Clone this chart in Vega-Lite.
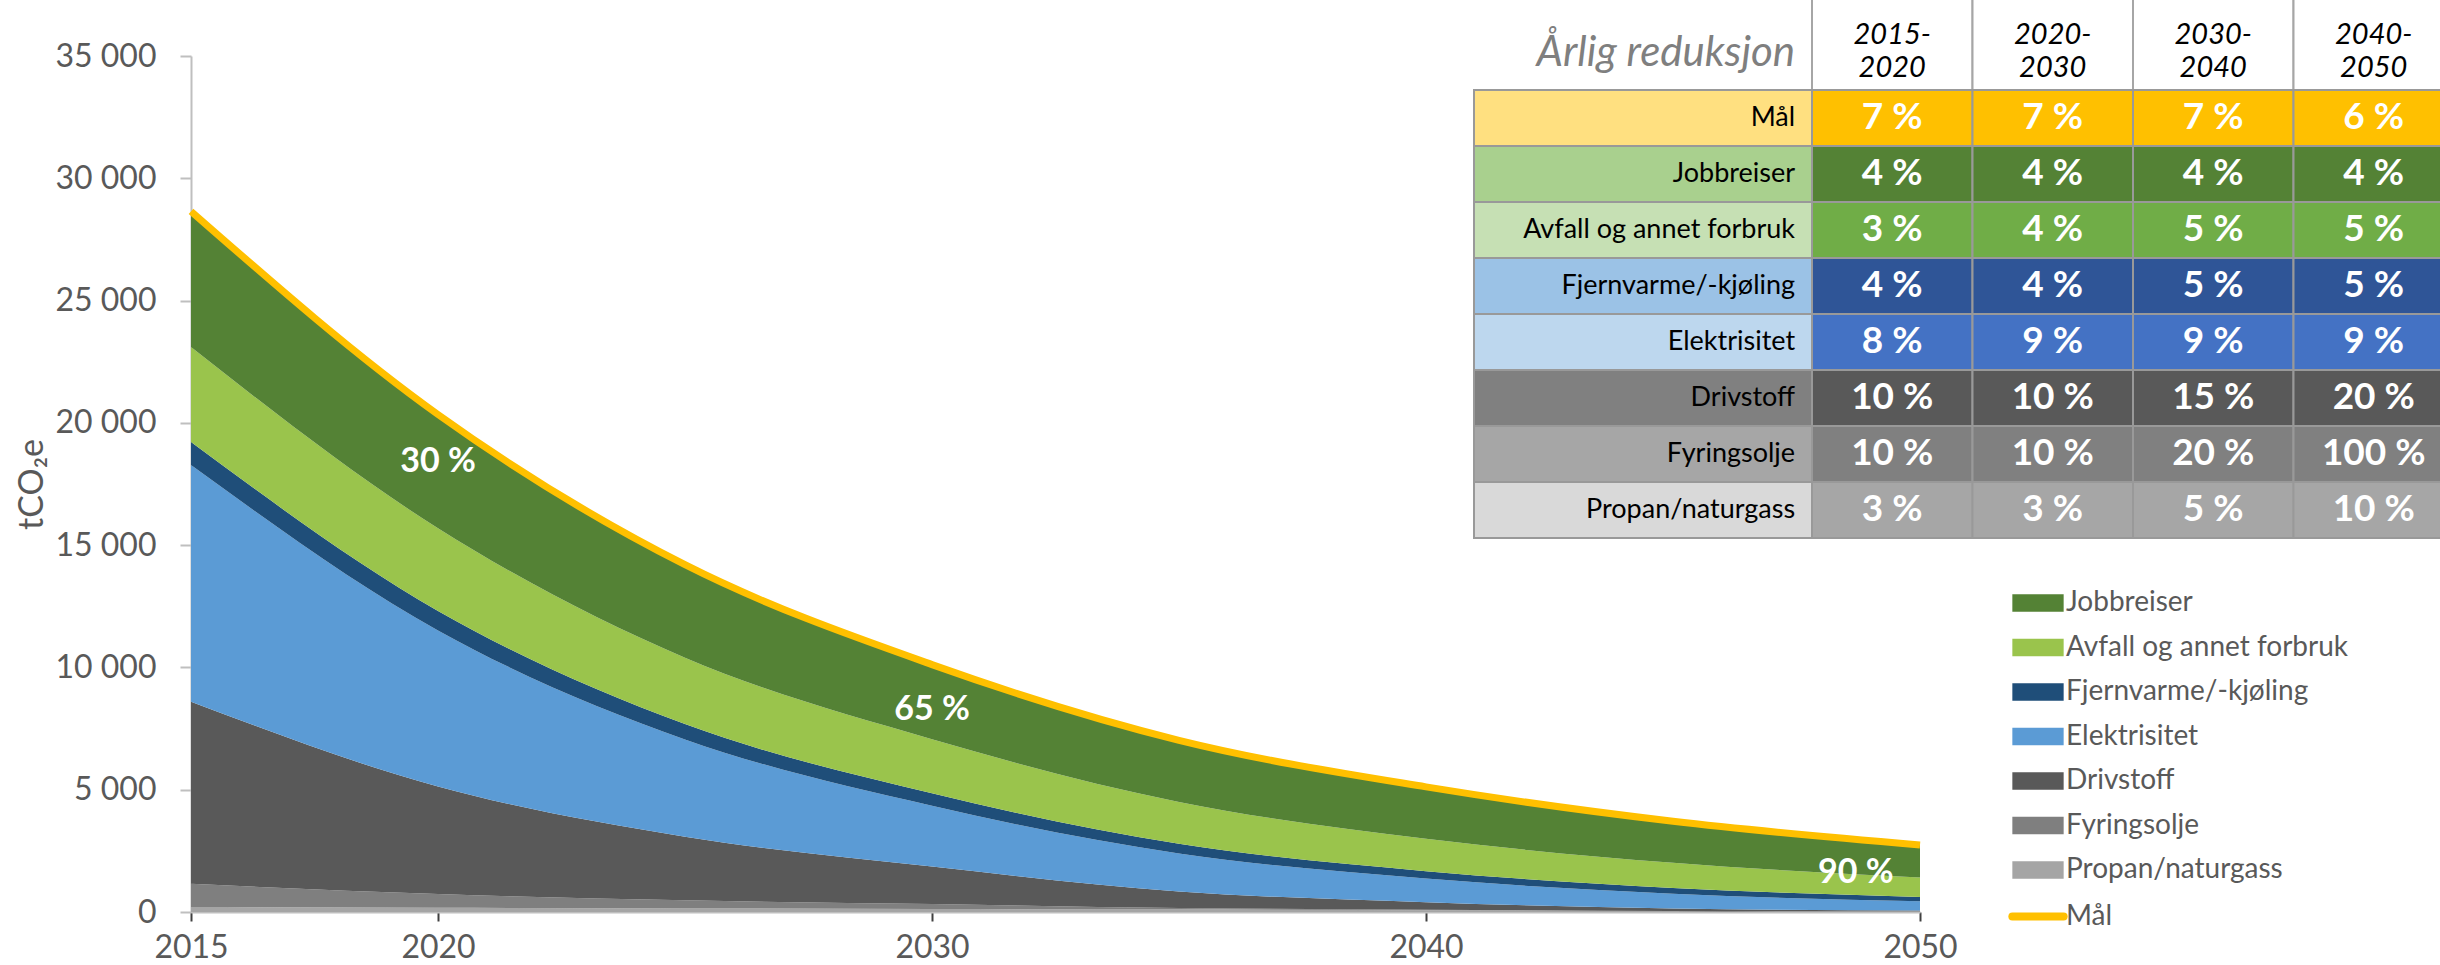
{
  "$schema": "https://vega.github.io/schema/vega-lite/v6.json",
  "width": 1729,
  "height": 856,
  "autosize": {"type": "none"},
  "padding": {"left": 191, "top": 56, "right": 520, "bottom": 53},
  "background": "white",
  "config": {"view": {"stroke": null}, "font": "Lato"},
  "datasets": {
    "utslipp": [
      {"aar": 2015, "kilde": "Propan/naturgass", "verdi": 200},
      {"aar": 2020, "kilde": "Propan/naturgass", "verdi": 172},
      {"aar": 2025, "kilde": "Propan/naturgass", "verdi": 148},
      {"aar": 2030, "kilde": "Propan/naturgass", "verdi": 127},
      {"aar": 2035, "kilde": "Propan/naturgass", "verdi": 98},
      {"aar": 2040, "kilde": "Propan/naturgass", "verdi": 76},
      {"aar": 2045, "kilde": "Propan/naturgass", "verdi": 45},
      {"aar": 2050, "kilde": "Propan/naturgass", "verdi": 26},
      {"aar": 2015, "kilde": "Fyringsolje", "verdi": 950},
      {"aar": 2020, "kilde": "Fyringsolje", "verdi": 561},
      {"aar": 2025, "kilde": "Fyringsolje", "verdi": 331},
      {"aar": 2030, "kilde": "Fyringsolje", "verdi": 196},
      {"aar": 2035, "kilde": "Fyringsolje", "verdi": 64},
      {"aar": 2040, "kilde": "Fyringsolje", "verdi": 21},
      {"aar": 2045, "kilde": "Fyringsolje", "verdi": 0},
      {"aar": 2050, "kilde": "Fyringsolje", "verdi": 0},
      {"aar": 2015, "kilde": "Drivstoff", "verdi": 7450},
      {"aar": 2020, "kilde": "Drivstoff", "verdi": 4399},
      {"aar": 2025, "kilde": "Drivstoff", "verdi": 2598},
      {"aar": 2030, "kilde": "Drivstoff", "verdi": 1534},
      {"aar": 2035, "kilde": "Drivstoff", "verdi": 681},
      {"aar": 2040, "kilde": "Drivstoff", "verdi": 302},
      {"aar": 2045, "kilde": "Drivstoff", "verdi": 99},
      {"aar": 2050, "kilde": "Drivstoff", "verdi": 32},
      {"aar": 2015, "kilde": "Elektrisitet", "verdi": 9680},
      {"aar": 2020, "kilde": "Elektrisitet", "verdi": 6380},
      {"aar": 2025, "kilde": "Elektrisitet", "verdi": 3981},
      {"aar": 2030, "kilde": "Elektrisitet", "verdi": 2484},
      {"aar": 2035, "kilde": "Elektrisitet", "verdi": 1550},
      {"aar": 2040, "kilde": "Elektrisitet", "verdi": 967},
      {"aar": 2045, "kilde": "Elektrisitet", "verdi": 604},
      {"aar": 2050, "kilde": "Elektrisitet", "verdi": 377},
      {"aar": 2015, "kilde": "Fjernvarme/-kjøling", "verdi": 940},
      {"aar": 2020, "kilde": "Fjernvarme/-kjøling", "verdi": 800},
      {"aar": 2025, "kilde": "Fjernvarme/-kjøling", "verdi": 625},
      {"aar": 2030, "kilde": "Fjernvarme/-kjøling", "verdi": 510},
      {"aar": 2035, "kilde": "Fjernvarme/-kjøling", "verdi": 394},
      {"aar": 2040, "kilde": "Fjernvarme/-kjøling", "verdi": 305},
      {"aar": 2045, "kilde": "Fjernvarme/-kjøling", "verdi": 236},
      {"aar": 2050, "kilde": "Fjernvarme/-kjøling", "verdi": 183},
      {"aar": 2015, "kilde": "Avfall og annet forbruk", "verdi": 3880},
      {"aar": 2020, "kilde": "Avfall og annet forbruk", "verdi": 3380},
      {"aar": 2025, "kilde": "Avfall og annet forbruk", "verdi": 2717},
      {"aar": 2030, "kilde": "Avfall og annet forbruk", "verdi": 2215},
      {"aar": 2035, "kilde": "Avfall og annet forbruk", "verdi": 1714},
      {"aar": 2040, "kilde": "Avfall og annet forbruk", "verdi": 1326},
      {"aar": 2045, "kilde": "Avfall og annet forbruk", "verdi": 1026},
      {"aar": 2050, "kilde": "Avfall og annet forbruk", "verdi": 794},
      {"aar": 2015, "kilde": "Jobbreiser", "verdi": 5550},
      {"aar": 2020, "kilde": "Jobbreiser", "verdi": 4650},
      {"aar": 2025, "kilde": "Jobbreiser", "verdi": 3800},
      {"aar": 2030, "kilde": "Jobbreiser", "verdi": 3050},
      {"aar": 2035, "kilde": "Jobbreiser", "verdi": 2520},
      {"aar": 2040, "kilde": "Jobbreiser", "verdi": 2120},
      {"aar": 2045, "kilde": "Jobbreiser", "verdi": 1700},
      {"aar": 2050, "kilde": "Jobbreiser", "verdi": 1330}
    ],
    "maal": [
      {"aar": 2015, "verdi": 28650},
      {"aar": 2020, "verdi": 20342},
      {"aar": 2025, "verdi": 14200},
      {"aar": 2030, "verdi": 10116},
      {"aar": 2035, "verdi": 7021},
      {"aar": 2040, "verdi": 5117},
      {"aar": 2045, "verdi": 3710},
      {"aar": 2050, "verdi": 2742}
    ],
    "etiketter": [
      {"aar": 2020, "verdi": 18400, "tekst": "30 %"},
      {"aar": 2030, "verdi": 8270, "tekst": "65 %"},
      {"aar": 2048.7, "verdi": 1615, "tekst": "90 %"}
    ],
    "tabell": [
      {"rad": "Mål", "periode": "2015-2020", "tekst": "7 %"},
      {"rad": "Mål", "periode": "2020-2030", "tekst": "7 %"},
      {"rad": "Mål", "periode": "2030-2040", "tekst": "7 %"},
      {"rad": "Mål", "periode": "2040-2050", "tekst": "6 %"},
      {"rad": "Jobbreiser", "periode": "2015-2020", "tekst": "4 %"},
      {"rad": "Jobbreiser", "periode": "2020-2030", "tekst": "4 %"},
      {"rad": "Jobbreiser", "periode": "2030-2040", "tekst": "4 %"},
      {"rad": "Jobbreiser", "periode": "2040-2050", "tekst": "4 %"},
      {"rad": "Avfall og annet forbruk", "periode": "2015-2020", "tekst": "3 %"},
      {"rad": "Avfall og annet forbruk", "periode": "2020-2030", "tekst": "4 %"},
      {"rad": "Avfall og annet forbruk", "periode": "2030-2040", "tekst": "5 %"},
      {"rad": "Avfall og annet forbruk", "periode": "2040-2050", "tekst": "5 %"},
      {"rad": "Fjernvarme/-kjøling", "periode": "2015-2020", "tekst": "4 %"},
      {"rad": "Fjernvarme/-kjøling", "periode": "2020-2030", "tekst": "4 %"},
      {"rad": "Fjernvarme/-kjøling", "periode": "2030-2040", "tekst": "5 %"},
      {"rad": "Fjernvarme/-kjøling", "periode": "2040-2050", "tekst": "5 %"},
      {"rad": "Elektrisitet", "periode": "2015-2020", "tekst": "8 %"},
      {"rad": "Elektrisitet", "periode": "2020-2030", "tekst": "9 %"},
      {"rad": "Elektrisitet", "periode": "2030-2040", "tekst": "9 %"},
      {"rad": "Elektrisitet", "periode": "2040-2050", "tekst": "9 %"},
      {"rad": "Drivstoff", "periode": "2015-2020", "tekst": "10 %"},
      {"rad": "Drivstoff", "periode": "2020-2030", "tekst": "10 %"},
      {"rad": "Drivstoff", "periode": "2030-2040", "tekst": "15 %"},
      {"rad": "Drivstoff", "periode": "2040-2050", "tekst": "20 %"},
      {"rad": "Fyringsolje", "periode": "2015-2020", "tekst": "10 %"},
      {"rad": "Fyringsolje", "periode": "2020-2030", "tekst": "10 %"},
      {"rad": "Fyringsolje", "periode": "2030-2040", "tekst": "20 %"},
      {"rad": "Fyringsolje", "periode": "2040-2050", "tekst": "100 %"},
      {"rad": "Propan/naturgass", "periode": "2015-2020", "tekst": "3 %"},
      {"rad": "Propan/naturgass", "periode": "2020-2030", "tekst": "3 %"},
      {"rad": "Propan/naturgass", "periode": "2030-2040", "tekst": "5 %"},
      {"rad": "Propan/naturgass", "periode": "2040-2050", "tekst": "10 %"}
    ],
    "rader": [
      {"rad": "Mål"},
      {"rad": "Jobbreiser"},
      {"rad": "Avfall og annet forbruk"},
      {"rad": "Fjernvarme/-kjøling"},
      {"rad": "Elektrisitet"},
      {"rad": "Drivstoff"},
      {"rad": "Fyringsolje"},
      {"rad": "Propan/naturgass"}
    ],
    "hode": [
      {"periode": "2015-2020", "overskrift": "2015-\n2020"},
      {"periode": "2020-2030", "overskrift": "2020-\n2030"},
      {"periode": "2030-2040", "overskrift": "2030-\n2040"},
      {"periode": "2040-2050", "overskrift": "2040-\n2050"}
    ]
  },
  "layer": [
    {
      "layer": [
        {
          "data": {"name": "utslipp"},
          "transform": [
            {"calculate": "indexof(['Propan/naturgass', 'Fyringsolje', 'Drivstoff', 'Elektrisitet', 'Fjernvarme/-kjøling', 'Avfall og annet forbruk', 'Jobbreiser'], datum.kilde)", "as": "lag"}
          ],
          "mark": {"type": "area", "interpolate": "monotone"},
          "encoding": {
            "x": {
              "field": "aar", "type": "quantitative",
              "scale": {"domain": [2015, 2050], "nice": false, "zero": false},
              "axis": {
                "title": null, "values": [2015, 2020, 2030, 2040, 2050], "format": "d",
                "grid": false, "domainColor": "#bfbfbf", "domainWidth": 2,
                "tickColor": "#404040", "tickWidth": 2, "tickSize": 9,
                "labelFont": "Lato", "labelFontSize": 32, "labelColor": "#595959",
                "labelPadding": 11, "labelFlush": false, "labelOverlap": false
              }
            },
            "y": {
              "field": "verdi", "type": "quantitative", "stack": "zero",
              "scale": {"domain": [0, 35000], "nice": false},
              "axis": {
                "title": "tCO₂e", "values": [0, 5000, 10000, 15000, 20000, 25000, 30000, 35000],
                "labelExpr": "replace(format(datum.value, ','), ',', ' ')",
                "grid": false, "domainColor": "#bfbfbf", "domainWidth": 2,
                "tickColor": "#bfbfbf", "tickWidth": 2, "tickSize": 11,
                "labelFont": "Lato", "labelFontSize": 32, "labelColor": "#595959",
                "labelPadding": 24,
                "titleFont": "Lato", "titleFontSize": 34, "titleFontWeight": "normal",
                "titleColor": "#595959", "titlePadding": 6
              }
            },
            "order": {"field": "lag", "type": "quantitative", "sort": "ascending"},
            "color": {
              "field": "kilde", "type": "nominal",
              "scale": {
                "domain": ["Jobbreiser", "Avfall og annet forbruk", "Fjernvarme/-kjøling", "Elektrisitet", "Drivstoff", "Fyringsolje", "Propan/naturgass", "Mål"],
                "range": ["#548235", "#9AC44C", "#1F4E79", "#5B9BD5", "#595959", "#7F7F7F", "#A5A5A5", "#FFC000"]
              },
              "legend": {
                "title": null, "orient": "none", "legendX": 1833, "legendY": 533,
                "padding": 0,
                "symbolType": "M-2.9,-1H2.9V1H-2.9Z", "symbolSize": 313,
                "labelFont": "Lato", "labelFontSize": 28, "labelColor": "#595959",
                "labelOffset": 14, "labelLimit": 0, "rowPadding": 16.5,
                "encode": {
                  "symbols": {
                    "update": {
                      "shape": {"signal": "datum.value === 'Mål' ? 'M-2.9,0H2.9' : 'M-2.9,-1H2.9V1H-2.9Z'"},
                      "fill": {"signal": "datum.value === 'Mål' ? 'transparent' : scale('color', datum.value)"},
                      "stroke": {"signal": "datum.value === 'Mål' ? '#FFC000' : 'transparent'"},
                      "strokeWidth": {"signal": "datum.value === 'Mål' ? 8 : 0"},
                      "strokeCap": {"value": "round"},
                      "opacity": {"value": 1}
                    }
                  }
                }
              }
            }
          }
        },
        {
          "data": {"name": "maal"},
          "mark": {"type": "line", "interpolate": "monotone", "strokeWidth": 7, "strokeCap": "butt"},
          "encoding": {
            "x": {"field": "aar", "type": "quantitative"},
            "y": {"field": "verdi", "type": "quantitative"},
            "color": {"datum": "Mål"}
          }
        },
        {
          "data": {"name": "etiketter"},
          "mark": {"type": "text", "font": "Lato", "fontSize": 34, "fontWeight": "bold", "color": "white", "align": "center", "baseline": "middle"},
          "encoding": {
            "x": {"field": "aar", "type": "quantitative"},
            "y": {"field": "verdi", "type": "quantitative"},
            "text": {"field": "tekst"}
          }
        }
      ]
    },
    {
      "data": {"name": "hode"},
      "encoding": {
        "x": {"field": "periode", "type": "nominal", "scale": {"type": "band", "domain": ["2015-2020", "2020-2030", "2030-2040", "2040-2050"], "range": [1621, 2263], "paddingInner": 0, "paddingOuter": 0}, "axis": null},
        "y": {"datum": "hode", "type": "nominal", "scale": {"type": "band", "domain": ["hode"], "range": [-66, 34], "paddingInner": 0, "paddingOuter": 0}, "axis": null}
      },
      "layer": [
        {"mark": {"type": "rect", "fill": "white", "stroke": "#a6a6a6", "strokeWidth": 2}},
        {
          "mark": {"type": "text", "font": "Lato", "fontSize": 29, "fontStyle": "italic", "color": "black", "lineBreak": "\n", "lineHeight": 33, "align": "center", "baseline": "middle"},
          "encoding": {
            "y": {"datum": "hode", "type": "nominal", "bandPosition": 0.45},
            "text": {"field": "overskrift"}
          }
        }
      ]
    },
    {
      "data": {"values": [{"tekst": "Årlig reduksjon"}]},
      "mark": {"type": "text", "font": "Lato", "fontSize": 42, "fontStyle": "italic", "color": "#7f7f7f", "align": "right", "baseline": "middle"},
      "encoding": {
        "x": {"datum": "etikett", "type": "nominal", "bandPosition": 0.95, "scale": {"type": "band", "domain": ["etikett"], "range": [1283, 1621], "paddingInner": 0, "paddingOuter": 0}, "axis": null},
        "y": {"datum": "hode", "type": "nominal", "bandPosition": 0.63, "scale": {"type": "band", "domain": ["hode"], "range": [-66, 34], "paddingInner": 0, "paddingOuter": 0}, "axis": null},
        "text": {"field": "tekst"}
      }
    },
    {
      "data": {"name": "rader"},
      "encoding": {
        "y": {"field": "rad", "type": "nominal", "scale": {"type": "band", "domain": ["Mål", "Jobbreiser", "Avfall og annet forbruk", "Fjernvarme/-kjøling", "Elektrisitet", "Drivstoff", "Fyringsolje", "Propan/naturgass"], "range": [34, 482], "paddingInner": 0, "paddingOuter": 0}, "axis": null}
      },
      "layer": [
        {
          "mark": {"type": "rect", "stroke": "#999999", "strokeWidth": 2},
          "encoding": {
            "x": {"datum": "etikett", "type": "nominal", "scale": {"type": "band", "domain": ["etikett"], "range": [1283, 1621], "paddingInner": 0, "paddingOuter": 0}, "axis": null},
            "fill": {"field": "rad", "type": "nominal", "scale": {"domain": ["Mål", "Jobbreiser", "Avfall og annet forbruk", "Fjernvarme/-kjøling", "Elektrisitet", "Drivstoff", "Fyringsolje", "Propan/naturgass"], "range": ["#FFE080", "#A9D08E", "#C6E0B4", "#9BC2E6", "#BDD7EE", "#808080", "#A6A6A6", "#D9D9D9"]}, "legend": null}
          }
        },
        {
          "mark": {"type": "text", "font": "Lato", "fontSize": 27, "color": "black", "align": "right", "baseline": "middle"},
          "encoding": {
            "x": {"datum": "etikett", "type": "nominal", "bandPosition": 0.95},
            "text": {"field": "rad"}
          }
        }
      ]
    },
    {
      "data": {"name": "tabell"},
      "encoding": {
        "x": {"field": "periode", "type": "nominal", "scale": {"type": "band", "domain": ["2015-2020", "2020-2030", "2030-2040", "2040-2050"], "range": [1621, 2263], "paddingInner": 0, "paddingOuter": 0}, "axis": null},
        "y": {"field": "rad", "type": "nominal", "scale": {"type": "band", "domain": ["Mål", "Jobbreiser", "Avfall og annet forbruk", "Fjernvarme/-kjøling", "Elektrisitet", "Drivstoff", "Fyringsolje", "Propan/naturgass"], "range": [34, 482], "paddingInner": 0, "paddingOuter": 0}, "axis": null}
      },
      "layer": [
        {
          "mark": {"type": "rect", "stroke": "#999999", "strokeWidth": 2},
          "encoding": {
            "fill": {"field": "rad", "type": "nominal", "scale": {"domain": ["Mål", "Jobbreiser", "Avfall og annet forbruk", "Fjernvarme/-kjøling", "Elektrisitet", "Drivstoff", "Fyringsolje", "Propan/naturgass"], "range": ["#FFC000", "#548235", "#70AD47", "#2F5597", "#4472C4", "#595959", "#808080", "#A6A6A6"]}, "legend": null}
          }
        },
        {
          "mark": {"type": "text", "font": "Lato", "fontSize": 37, "fontWeight": "bold", "color": "white", "align": "center", "baseline": "middle"},
          "encoding": {"text": {"field": "tekst"}}
        }
      ]
    }
  ],
  "resolve": {"scale": {"x": "independent", "y": "independent", "fill": "independent"}}
}
